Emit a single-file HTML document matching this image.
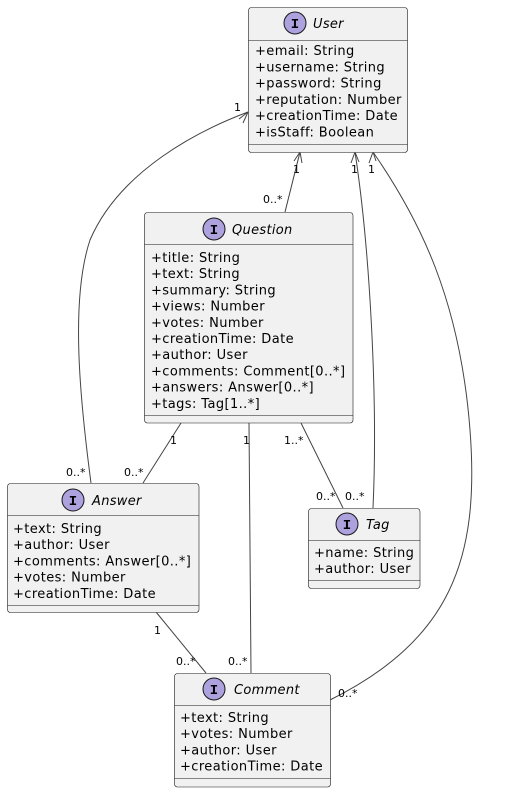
<!DOCTYPE html>
<html><head><meta charset="utf-8"><style>
html,body{margin:0;padding:0;background:#fff;}
svg text{font-family:"DejaVu Sans","Liberation Sans",sans-serif;fill:#000;}
.a{font-size:13px;letter-spacing:0.4px;}
.t{font-size:13px;font-style:italic;letter-spacing:0.3px;}
.l{font-size:11px;}
</style></head><body>
<svg width="526" height="792" viewBox="0 0 526 792" xmlns="http://www.w3.org/2000/svg">
<defs>
<g id="ic"><circle r="11" fill="#ADA1DE" stroke="#181818" stroke-width="1"/><text x="0" y="5" text-anchor="middle" style="font-size:14px;font-weight:bold;font-family:'Liberation Mono',monospace">I</text></g>
</defs>
<g fill="none" stroke="#444" stroke-width="1">
<path d="M91,483 C80,400 70,300 90,240 C120,170 200,130 248,112"/>
<path d="M285,212 L300,152"/>
<path d="M373,508 C378,400 370,250 355,152"/>
<path d="M330,700 C450,640 480,560 470,430 C460,300 420,220 373,152"/>
<path d="M181,423 L143,483"/>
<path d="M249,423 L251,673"/>
<path d="M301,423 L343,508"/>
<path d="M156,612 L206,673"/>
<path d="M239,119 L248,112 L243,123"/>
<path d="M294,161 L300,152 L302,163"/>
<path d="M351,163 L355,152 L359,162"/>
<path d="M369,163 L373,152 L376,161"/>
</g>
<g class="l">
<text x="66" y="476">0..*</text><text x="234" y="111">1</text>
<text x="293" y="173">1</text><text x="263" y="203">0..*</text>
<text x="351" y="173">1</text><text x="345" y="500">0..*</text>
<text x="368" y="173">1</text><text x="338" y="697">0..*</text>
<text x="170" y="444">1</text><text x="124" y="476">0..*</text>
<text x="243" y="444">1</text><text x="228" y="665">0..*</text>
<text x="284" y="444">1..*</text><text x="316" y="500">0..*</text>
<text x="154" y="634">1</text><text x="176" y="665">0..*</text>
</g>
<g fill="#F1F1F1" stroke="#181818" stroke-width="0.6">
<rect x="248.5" y="7.5" width="159" height="145" rx="3"/>
<rect x="144.5" y="212.5" width="208.5" height="210.5" rx="3"/>
<rect x="7.5" y="483.5" width="191.5" height="129" rx="3"/>
<rect x="308.5" y="508.5" width="111.5" height="80" rx="3"/>
<rect x="174.5" y="673.5" width="156" height="113.5" rx="3"/>
</g>
<g stroke="#181818" stroke-width="0.6">
<line x1="248.5" y1="40.5" x2="407.5" y2="40.5"/><line x1="248.5" y1="144.5" x2="407.5" y2="144.5"/>
<line x1="144.5" y1="244.5" x2="353" y2="244.5"/><line x1="144.5" y1="415.5" x2="353" y2="415.5"/>
<line x1="7.5" y1="515.5" x2="199" y2="515.5"/><line x1="7.5" y1="605.5" x2="199" y2="605.5"/>
<line x1="308.5" y1="540.5" x2="420" y2="540.5"/><line x1="308.5" y1="580.5" x2="420" y2="580.5"/>
<line x1="174.5" y1="705.5" x2="330.5" y2="705.5"/><line x1="174.5" y1="778.5" x2="330.5" y2="778.5"/>
</g>
<use href="#ic" x="295" y="23"/><text class="t" x="313" y="28">User</text>
<use href="#ic" x="214" y="229"/><text class="t" x="232" y="234">Question</text>
<use href="#ic" x="73" y="500"/><text class="t" x="92" y="505">Answer</text>
<use href="#ic" x="347" y="524"/><text class="t" x="366" y="529">Tag</text>
<use href="#ic" x="214" y="689"/><text class="t" x="234" y="694">Comment</text>
<g class="a">
<text x="255" y="55">+email: String</text>
<text x="255" y="71.3">+username: String</text>
<text x="255" y="87.6">+password: String</text>
<text x="255" y="103.9">+reputation: Number</text>
<text x="255" y="120.2">+creationTime: Date</text>
<text x="255" y="136.5">+isStaff: Boolean</text>

<text x="151" y="262">+title: String</text>
<text x="151" y="278.2">+text: String</text>
<text x="151" y="294.4">+summary: String</text>
<text x="151" y="310.6">+views: Number</text>
<text x="151" y="326.8">+votes: Number</text>
<text x="151" y="343">+creationTime: Date</text>
<text x="151" y="359.2">+author: User</text>
<text x="151" y="375.4">+comments: Comment[0..*]</text>
<text x="151" y="391.6">+answers: Answer[0..*]</text>
<text x="151" y="407.8">+tags: Tag[1..*]</text>

<text x="13" y="533">+text: String</text>
<text x="13" y="549.2">+author: User</text>
<text x="13" y="565.4">+comments: Answer[0..*]</text>
<text x="13" y="581.6">+votes: Number</text>
<text x="13" y="597.8">+creationTime: Date</text>

<text x="314" y="557">+name: String</text>
<text x="314" y="573.2">+author: User</text>

<text x="180" y="722">+text: String</text>
<text x="180" y="738.2">+votes: Number</text>
<text x="180" y="754.4">+author: User</text>
<text x="180" y="770.6">+creationTime: Date</text>
</g>
</svg>
</body></html>
